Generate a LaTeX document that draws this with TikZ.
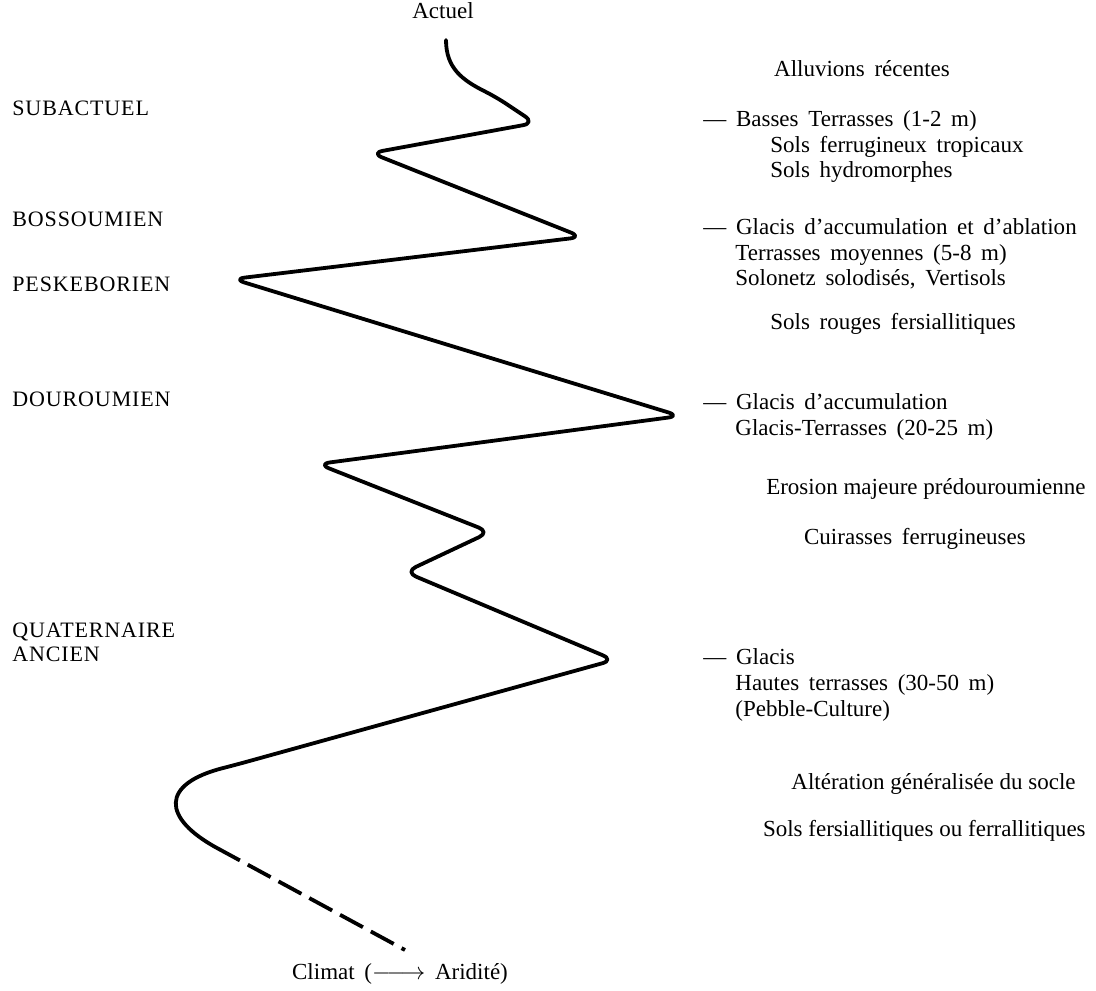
\documentclass[tikz,border=0pt]{standalone}
\usepackage{fontspec}
\setmainfont{Liberation Serif}
\newcommand\widespaces{\spaceskip=0.42em plus 0.1em\relax}
\begin{document}
\begin{tikzpicture}[x=0.5pt, y=-0.5pt,
    period/.style={anchor=mid west, inner sep=0pt,
        font=\fontsize{11}{13}\selectfont\addfontfeature{LetterSpace=4}},
    depot/.style={anchor=mid west, inner sep=0pt,
        font=\fontsize{11.5}{13}\selectfont,
        execute at begin node=\widespaces},
    legend/.style={anchor=mid, inner sep=0pt,
        font=\fontsize{11.5}{13}\selectfont,
        execute at begin node=\widespaces},
    legendright/.style={anchor=mid east, inner sep=0pt,
        font=\fontsize{11.5}{13}\selectfont},
    climate/.style={line width=1.9pt, line cap=round, line join=round},
    climatedash/.style={line width=1.9pt, dash pattern=on 13pt off 4.5pt}]

\useasboundingbox (0,0) rectangle (1096,990);

% periods
\node (Period01) [period] at (12,111) {SUBACTUEL};
\node (Period02) [period] at (12,222) {BOSSOUMIEN};
\node (Period03) [period] at (12,287) {PESKEBORIEN};
\node (Period04) [period] at (12,402) {DOUROUMIEN};
\node (Period05) [period] at (12,633) {QUATERNAIRE};
\node (Period06) [period] at (12,657) {ANCIEN};

% formations
\node (Depot01) [legend] at (862,72) {Alluvions récentes};
\node (Depot02) [depot] at (703,122) {--- Basses Terrasses (1-2 m)};
\node (Depot03) [depot] at (770,148) {Sols ferrugineux tropicaux};
\node (Depot04) [depot] at (770,173) {Sols hydromorphes};
\node (Depot05) [depot] at (703,230) {--- Glacis d'accumulation et d'ablation};
\node (Depot06) [depot] at (735,256) {Terrasses moyennes (5-8 m)};
\node (Depot07) [depot] at (735,281) {Solonetz solodisés, Vertisols};
\node (Depot08) [depot] at (770,325) {Sols rouges fersiallitiques};
\node (Depot09) [depot] at (703,405) {--- Glacis d'accumulation};
\node (Depot10) [depot] at (735,431) {Glacis-Terrasses (20-25 m)};
\node (Depot11) [legendright] at (1086,490) {Erosion majeure prédouroumienne};
\node (Depot12) [legend] at (915,540) {Cuirasses ferrugineuses};
\node (Depot13) [depot] at (703,660) {--- Glacis};
\node (Depot14) [depot] at (735,686) {Hautes terrasses (30-50 m)};
\node (Depot15) [depot] at (735,712) {(Pebble-Culture)};
\node (Depot16) [legendright] at (1076,785) {Altération généralisée du socle};
\node (Depot17) [legendright] at (1086,832) {Sols fersiallitiques ou ferrallitiques};

\node (Actuel) [legend] at (443,14) {Actuel};
\node (Climat) [legend] at (400,975)
    {Climat (\mbox{$\relbar\joinrel\longrightarrow$}\ Aridité)};

% courbe climatique
\draw[climate, rounded corners=6pt]
    (446,40) .. controls (446,68) and (462,80) .. (496,97)
    -- (535,123) -- (371,153) -- (582,237) -- (233,279)
    -- (680,416) -- (318,464) -- (490,532) -- (405,572)
    -- (614,660) -- (235,765)
    .. controls (160,784) and (162,818) .. (217,848) coordinate (DashStart);
\coordinate (DashEnd) at (405,950);
\draw[climatedash] (DashStart) -- (DashEnd);

\end{tikzpicture}
\end{document}
